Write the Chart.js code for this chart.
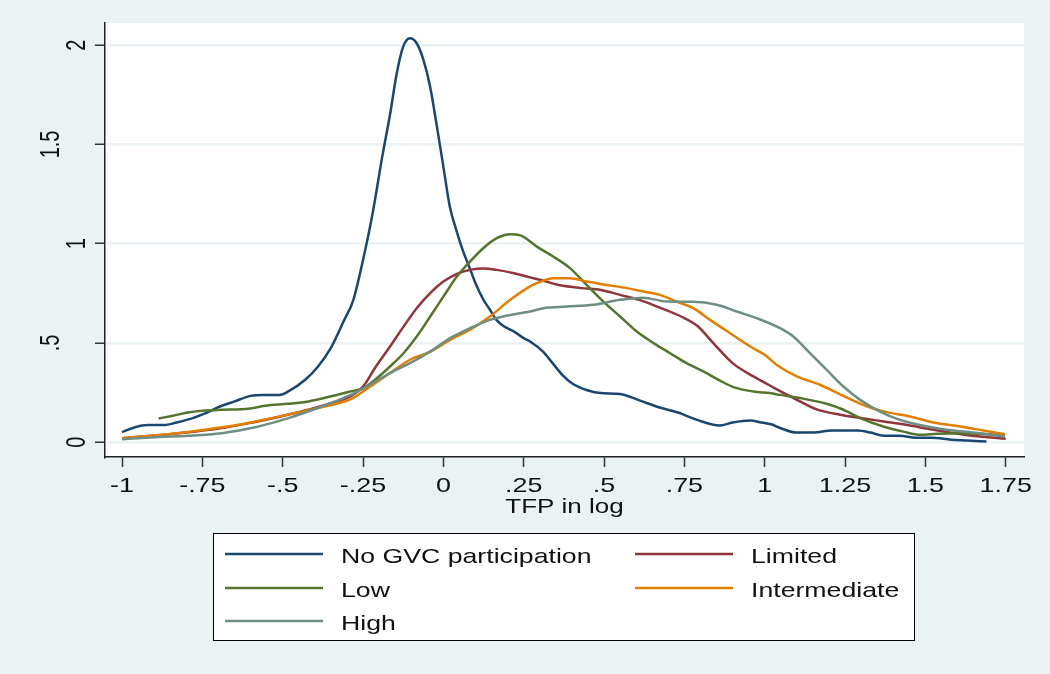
<!DOCTYPE html>
<html>
<head>
<meta charset="utf-8">
<title>TFP density by GVC participation</title>
<script src="https://cdn.jsdelivr.net/npm/chart.js@4.4.1/dist/chart.umd.min.js"></script>
<style>
  html, body { margin: 0; padding: 0; background: #eaf2f3; }
  canvas { display: block; }
</style>
</head>
<body>
<canvas id="tfp" width="1050" height="674"></canvas>
<script>
// kernel density of log TFP, one curve per GVC participation group
const noGvcX = [-1, -0.96, -0.92, -0.87, -0.83, -0.78, -0.74, -0.7, -0.65, -0.6, -0.56, -0.51, -0.48, -0.43, -0.39, -0.35, -0.31, -0.28, -0.25, -0.22, -0.19, -0.165, -0.145, -0.125, -0.104, -0.083, -0.062, -0.041, -0.02, 0, 0.02, 0.04, 0.06, 0.08, 0.1, 0.125, 0.145, 0.165, 0.19, 0.22, 0.25, 0.27, 0.31, 0.34, 0.37, 0.4, 0.45, 0.49, 0.55, 0.61, 0.67, 0.73, 0.79, 0.86, 0.9, 0.955, 0.99, 1.02, 1.05, 1.1, 1.15, 1.21, 1.29, 1.33, 1.37, 1.42, 1.47, 1.52, 1.58, 1.63, 1.69]
const noGvcY = [0.05, 0.075, 0.086, 0.086, 0.099, 0.121, 0.146, 0.176, 0.205, 0.233, 0.238, 0.238, 0.258, 0.314, 0.381, 0.475, 0.61, 0.717, 0.918, 1.154, 1.44, 1.66, 1.859, 1.993, 2.035, 2.01, 1.926, 1.79, 1.59, 1.388, 1.187, 1.07, 0.969, 0.885, 0.801, 0.717, 0.667, 0.616, 0.582, 0.557, 0.524, 0.507, 0.456, 0.398, 0.339, 0.297, 0.26, 0.247, 0.243, 0.21, 0.176, 0.149, 0.112, 0.084, 0.099, 0.109, 0.099, 0.09, 0.07, 0.048, 0.048, 0.059, 0.059, 0.048, 0.032, 0.032, 0.022, 0.022, 0.012, 0.008, 0.003]

const limitedX = [-1, -0.9, -0.8, -0.7, -0.6, -0.5, -0.43, -0.35, -0.29, -0.25, -0.21, -0.166, -0.124, -0.083, -0.041, 0, 0.042, 0.083, 0.124, 0.166, 0.22, 0.27, 0.3, 0.36, 0.43, 0.49, 0.55, 0.61, 0.67, 0.74, 0.79, 0.84, 0.9, 0.965, 1.0, 1.03, 1.09, 1.16, 1.235, 1.3, 1.37, 1.44, 1.515, 1.59, 1.67, 1.75]
const limitedY = [0.02, 0.033, 0.048, 0.068, 0.097, 0.132, 0.159, 0.196, 0.23, 0.28, 0.381, 0.482, 0.582, 0.675, 0.751, 0.809, 0.848, 0.868, 0.875, 0.868, 0.851, 0.83, 0.818, 0.792, 0.776, 0.767, 0.742, 0.717, 0.68, 0.633, 0.586, 0.499, 0.398, 0.331, 0.3, 0.272, 0.222, 0.166, 0.138, 0.121, 0.104, 0.087, 0.065, 0.045, 0.028, 0.017]

const lowX = [-0.886, -0.845, -0.794, -0.742, -0.69, -0.607, -0.555, -0.482, -0.42, -0.358, -0.29, -0.249, -0.207, -0.166, -0.124, -0.083, -0.041, 0, 0.042, 0.083, 0.124, 0.166, 0.208, 0.24, 0.291, 0.342, 0.394, 0.446, 0.498, 0.55, 0.602, 0.654, 0.706, 0.757, 0.809, 0.861, 0.903, 0.965, 1.017, 1.048, 1.11, 1.193, 1.245, 1.297, 1.369, 1.432, 1.484, 1.536, 1.608, 1.67, 1.748]
const lowY = [0.119, 0.132, 0.149, 0.159, 0.163, 0.168, 0.183, 0.193, 0.205, 0.227, 0.255, 0.272, 0.322, 0.381, 0.448, 0.532, 0.633, 0.733, 0.834, 0.91, 0.977, 1.028, 1.048, 1.042, 0.985, 0.935, 0.877, 0.792, 0.708, 0.633, 0.557, 0.499, 0.448, 0.398, 0.356, 0.31, 0.277, 0.255, 0.247, 0.238, 0.222, 0.193, 0.163, 0.121, 0.079, 0.053, 0.037, 0.042, 0.045, 0.042, 0.033]

const intermediateX = [-1, -0.9, -0.8, -0.742, -0.638, -0.534, -0.43, -0.353, -0.29, -0.228, -0.166, -0.104, -0.041, 0.021, 0.083, 0.145, 0.208, 0.27, 0.291, 0.342, 0.394, 0.446, 0.509, 0.571, 0.622, 0.674, 0.726, 0.778, 0.83, 0.892, 0.955, 1.0, 1.038, 1.1, 1.172, 1.245, 1.318, 1.38, 1.452, 1.525, 1.608, 1.681, 1.748]
const intermediateY = [0.02, 0.033, 0.05, 0.062, 0.087, 0.121, 0.157, 0.185, 0.215, 0.28, 0.348, 0.415, 0.456, 0.515, 0.566, 0.633, 0.717, 0.785, 0.801, 0.826, 0.826, 0.809, 0.792, 0.776, 0.759, 0.742, 0.708, 0.675, 0.616, 0.549, 0.482, 0.44, 0.389, 0.331, 0.289, 0.233, 0.18, 0.151, 0.129, 0.099, 0.079, 0.059, 0.04]

const highX = [-1, -0.897, -0.794, -0.69, -0.586, -0.482, -0.378, -0.306, -0.228, -0.166, -0.104, -0.041, 0.021, 0.083, 0.145, 0.208, 0.27, 0.311, 0.384, 0.467, 0.55, 0.622, 0.695, 0.778, 0.851, 0.913, 0.986, 1.048, 1.089, 1.141, 1.193, 1.245, 1.297, 1.359, 1.421, 1.494, 1.567, 1.65, 1.748]
const highY = [0.015, 0.025, 0.032, 0.045, 0.075, 0.121, 0.18, 0.225, 0.289, 0.348, 0.398, 0.456, 0.524, 0.574, 0.616, 0.641, 0.658, 0.675, 0.683, 0.692, 0.717, 0.728, 0.708, 0.707, 0.692, 0.658, 0.618, 0.574, 0.532, 0.448, 0.364, 0.28, 0.213, 0.154, 0.112, 0.082, 0.062, 0.048, 0.028]

const groupNames = ['No GVC participation', 'Limited', 'Low', 'Intermediate', 'High']
const groupColors = ['#1a476f', '#90353b', '#55752f', '#e37e00', '#6e8e84']

const xTicks = [-1, -0.75, -0.5, -0.25, 0, 0.25, 0.5, 0.75, 1, 1.25, 1.5, 1.75]
const xTickLabels = ['-1', '-.75', '-.5', '-.25', '0', '.25', '.5', '.75', '1', '1.25', '1.5', '1.75']
const yTicks = [0, 0.5, 1, 1.5, 2]
const yTickLabels = ['0', '.5', '1', '1.5', '2']

const xTitle = 'TFP in log'

const BG = '#eaf2f3'
const INK = '#111'
const FONT = '"Liberation Sans", Arial, sans-serif'

const series = [
  [noGvcX, noGvcY],
  [limitedX, limitedY],
  [lowX, lowY],
  [intermediateX, intermediateY],
  [highX, highY]
]

const datasets = series.map(([xs, ys], i) => ({
  label: groupNames[i],
  data: xs.map((x, j) => ({ x, y: ys[j] })),
  borderColor: groupColors[i],
  borderWidth: 2.5,
  pointRadius: 0,
  cubicInterpolationMode: 'monotone',
  fill: false,
  order: series.length - i   // later groups are drawn on top
}))

// draw a string stretched horizontally the way Stata exports it
function wideText (ctx, text, x, y, size, sx, align) {
  ctx.save()
  ctx.translate(x, y)
  ctx.scale(sx, 1)
  ctx.font = `${size}px ${FONT}`
  ctx.textAlign = align
  ctx.textBaseline = 'alphabetic'
  ctx.fillText(text, 0, 0)
  ctx.restore()
}

const stataFrame = {
  id: 'stataFrame',
  beforeDraw (chart) {
    const { ctx, chartArea: a } = chart
    ctx.save()
    ctx.fillStyle = BG
    ctx.fillRect(0, 0, chart.width, chart.height)
    ctx.fillStyle = '#fff'
    ctx.fillRect(a.left, a.top, a.right - a.left, a.bottom - a.top)
    ctx.restore()
  },
  afterDraw (chart) {
    const { ctx, chartArea: a } = chart
    const xs = chart.scales.x
    const ys = chart.scales.y
    ctx.save()
    ctx.fillStyle = INK

    // x tick labels
    xTicks.forEach((v, i) => {
      wideText(ctx, xTickLabels[i], xs.getPixelForValue(v), a.bottom + 35, 21, 1.28, 'center')
    })

    // x title
    wideText(ctx, xTitle, (a.left + a.right) / 2, a.bottom + 56, 20, 1.3, 'center')

    // y tick labels, rotated to read upwards
    yTicks.forEach((v, i) => {
      const label = yTickLabels[i]
      const base = label.includes('.') ? a.left - 46 : a.left - 20
      ctx.save()
      ctx.translate(base, ys.getPixelForValue(v))
      ctx.rotate(-Math.PI / 2)
      ctx.scale(1, 1.38)
      ctx.font = `20px ${FONT}`
      ctx.textAlign = 'center'
      ctx.textBaseline = 'alphabetic'
      ctx.fillText(label, 0, 0)
      ctx.restore()
    })

    // legend box under the plot, two columns
    const box = { left: 213.5, top: 533.5, width: 701, height: 107 }
    ctx.fillStyle = '#fff'
    ctx.fillRect(box.left, box.top, box.width, box.height)
    ctx.strokeStyle = '#000'
    ctx.lineWidth = 1
    ctx.strokeRect(box.left, box.top, box.width, box.height)

    const cols = [225, 635]
    const rows = [554, 588, 621]
    chart.data.datasets.forEach((ds, i) => {
      const cx = cols[i % 2]
      const cy = rows[Math.floor(i / 2)]
      ctx.strokeStyle = ds.borderColor
      ctx.lineWidth = 2.5
      ctx.beginPath()
      ctx.moveTo(cx, cy)
      ctx.lineTo(cx + 98, cy)
      ctx.stroke()
      ctx.fillStyle = INK
      wideText(ctx, ds.label, cx + 116, cy + 9, 21, 1.27, 'left')
    })
    ctx.restore()
  }
}

new Chart(document.getElementById('tfp'), {
  type: 'line',
  data: { datasets },
  options: {
    responsive: false,
    animation: false,
    devicePixelRatio: 1,
    layout: { padding: { top: 23, right: 26, bottom: 0, left: 0 } },
    plugins: {
      legend: { display: false },
      tooltip: { enabled: false }
    },
    scales: {
      x: {
        type: 'linear',
        min: -1.053,
        max: 1.807,
        afterBuildTicks: s => { s.ticks = xTicks.map(value => ({ value })) },
        afterFit: s => { s.height = 217 },
        ticks: { display: false },
        grid: {
          drawOnChartArea: false,
          tickLength: 10,
          tickColor: '#333',
          tickWidth: 1.5
        },
        border: { color: '#222', width: 1.5 }
      },
      y: {
        type: 'linear',
        min: -0.075,
        max: 2.112,
        afterBuildTicks: s => { s.ticks = yTicks.map(value => ({ value })) },
        afterFit: s => { s.width = 105 },
        ticks: { display: false },
        grid: {
          color: BG,
          lineWidth: 2.5,
          tickLength: 10,
          tickColor: '#333',
          tickWidth: 1.5
        },
        border: { color: '#222', width: 1.5 }
      }
    }
  },
  plugins: [stataFrame]
})
</script>
</body>
</html>
